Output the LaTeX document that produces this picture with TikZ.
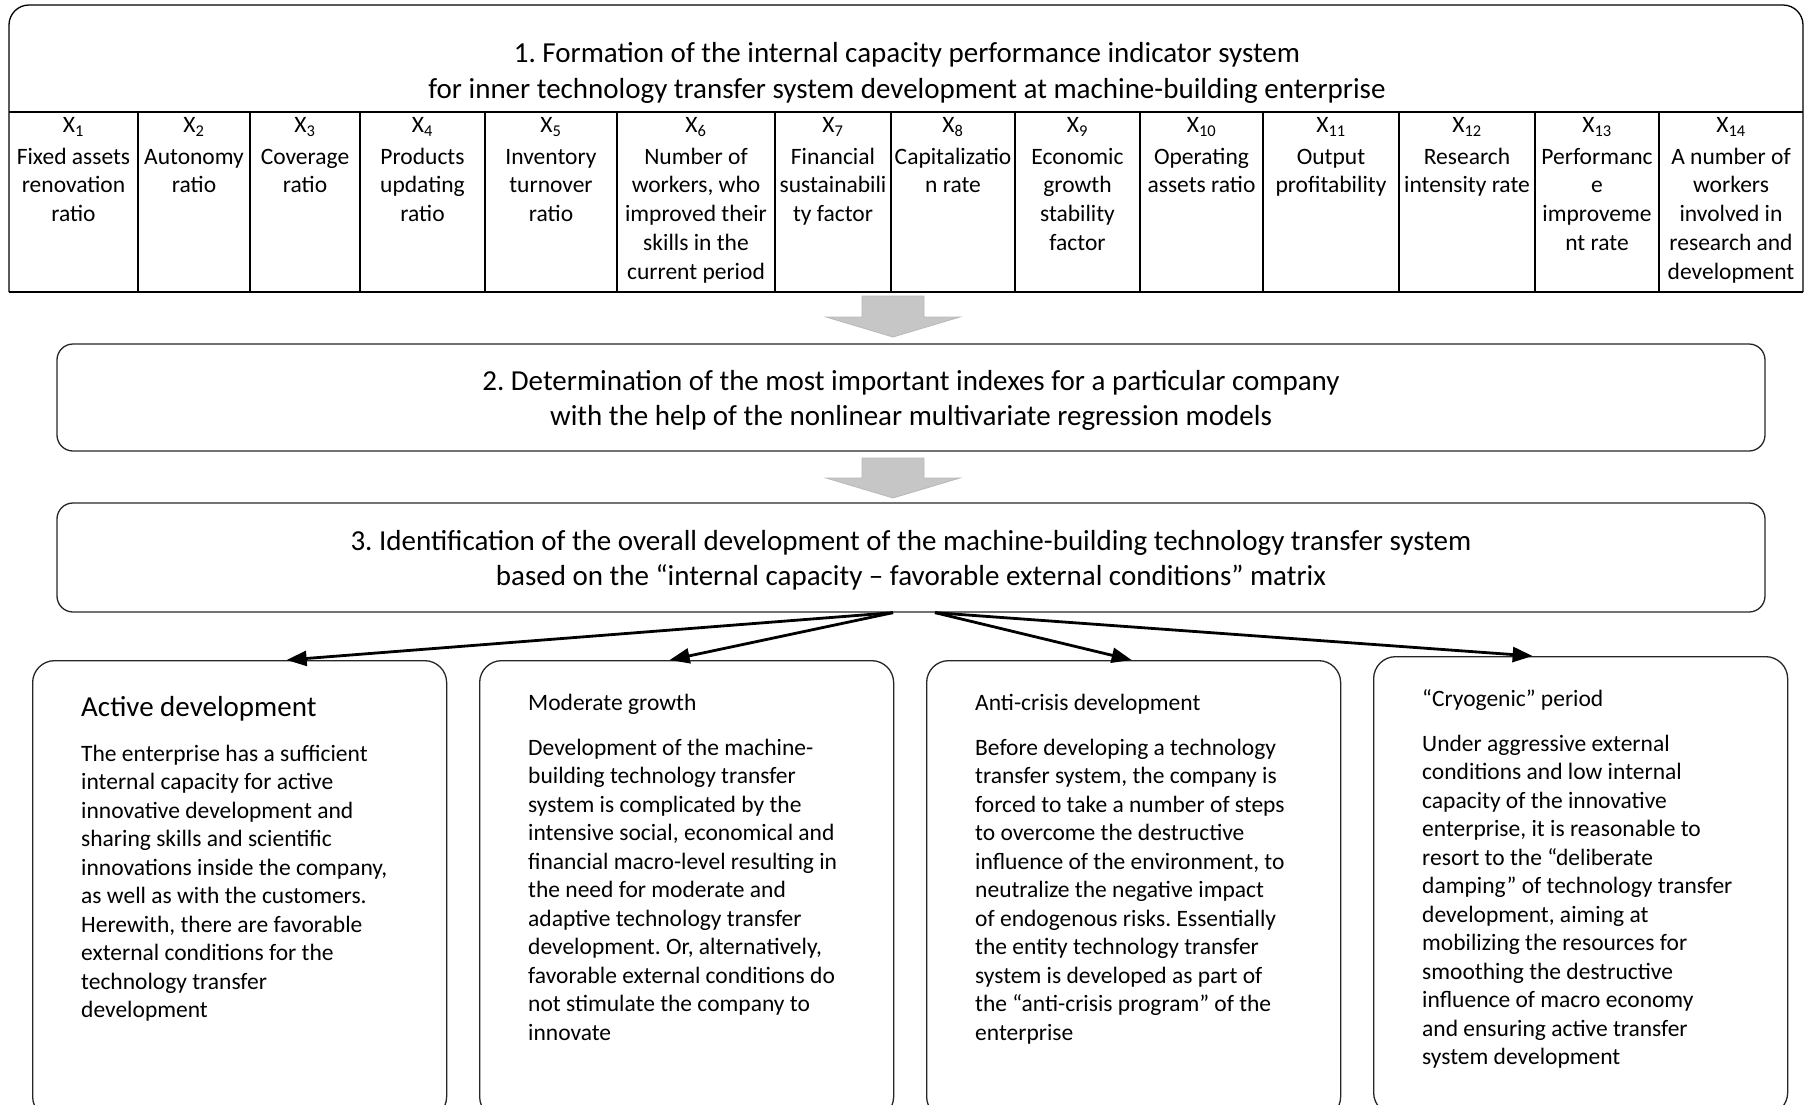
\documentclass[tikz,border=0pt]{standalone}
\usepackage{fontspec}
\setmainfont{Carlito}
\usetikzlibrary{arrows.meta}
\frenchspacing

\newcommand{\bigfont}{\fontsize{29}{35.5}\selectfont}
\newcommand{\cellfont}{\fontsize{23.5}{28.8}\selectfont}
\newcommand{\smallfont}{\fontsize{23.5}{28.5}\selectfont}

\tikzset{
    stepbox/.style={draw=black!85, line width=1.3pt, rounded corners=16pt, align=center, font=\bigfont},
    casebox/.style={draw=black!85, line width=1.3pt, rounded corners=22pt, anchor=north west,
        minimum width=414pt, minimum height=458pt},
    cell/.style={anchor=north, align=center, inner sep=0pt, font=\cellfont},
    casehead/.style={anchor=base west, inner sep=0pt, font=\smallfont},
    casetext/.style={anchor=north west, align=left, inner sep=0pt, font=\smallfont},
    blockarr/.style={fill=gray!45, draw=gray!55, line width=0.8pt},
    flowarr/.style={line width=2.8pt, -{Triangle[length=20pt,width=15pt]}}
}

\begin{document}
\begin{tikzpicture}[x=1pt, y=-1pt]
    \useasboundingbox (0,0) rectangle (1805,1104);
    \clip (0,0) rectangle (1805,1104);

    % step 1: indicator table
    \draw[line width=1.3pt, rounded corners=20pt] (9,292) -- (9,5) -- (1803,5) -- (1803,292);
    \draw[line width=1.3pt] (9,112) -- (1803,112) (9,292) -- (1803,292);
    \foreach \x in {138,250,360,485,617,775,891,1015,1140,1263,1399,1535,1659}
        \draw[line width=1.1pt] (\x,112) -- (\x,292);

    \node[anchor=north, align=center, inner sep=0pt, font=\bigfont] (step1) at (907,37.6)
        {\strut 1. Formation of the internal capacity performance indicator system\\
         for inner technology transfer system development at machine-building enterprise};

    \node[cell] (x1) at (73.5,112) {\strut X\textsubscript{1}\\[3pt]Fixed assets\\renovation\\ratio};
    \node[cell] (x2) at (194,112) {\strut X\textsubscript{2}\\[3pt]Autonomy\\ratio};
    \node[cell] (x3) at (305,112) {\strut X\textsubscript{3}\\[3pt]Coverage\\ratio};
    \node[cell] (x4) at (422.5,112) {\strut X\textsubscript{4}\\[3pt]Products\\updating\\ratio};
    \node[cell] (x5) at (551,112) {\strut X\textsubscript{5}\\[3pt]Inventory\\turnover\\ratio};
    \node[cell] (x6) at (696,112) {\strut X\textsubscript{6}\\[3pt]Number of\\workers, who\\improved their\\skills in the\\current period};
    \node[cell] (x7) at (833,112) {\strut X\textsubscript{7}\\[3pt]Financial\\sustainabili\\ty factor};
    \node[cell] (x8) at (953,112) {\strut X\textsubscript{8}\\[3pt]Capitalizatio\\n rate};
    \node[cell] (x9) at (1077.5,112) {\strut X\textsubscript{9}\\[3pt]Economic\\growth\\stability\\factor};
    \node[cell] (x10) at (1201.5,112) {\strut X\textsubscript{10}\\[3pt]Operating\\assets ratio};
    \node[cell] (x11) at (1331,112) {\strut X\textsubscript{11}\\[3pt]Output\\profitability};
    \node[cell] (x12) at (1467,112) {\strut X\textsubscript{12}\\[3pt]Research\\intensity rate};
    \node[cell] (x13) at (1597,112) {\strut X\textsubscript{13}\\[3pt]Performanc\\e\\improveme\\nt rate};
    \node[cell] (x14) at (1731,112) {\strut X\textsubscript{14}\\[3pt]A number of\\workers\\involved in\\research and\\development};

    % gray block arrows
    \coordinate (ar1) at (893,296);
    \coordinate (ar2) at (893,458);
    \draw[blockarr] (ar1) ++(-31,0) -- ++(62,0) -- ++(0,21) -- ++(36,0) -- ++(-67,20) -- ++(-67,-20) -- ++(36,0) -- cycle;
    \draw[blockarr] (ar2) ++(-31,0) -- ++(62,0) -- ++(0,20) -- ++(36,0) -- ++(-67,20) -- ++(-67,-20) -- ++(36,0) -- cycle;

    % steps 2 and 3
    \node[stepbox, minimum width=1708pt, minimum height=107pt] (step2) at (911,397.5)
        {\rule{0pt}{26pt}2. Determination of the most important indexes for a particular company\\
         with the help of the nonlinear multivariate regression models};
    \node[stepbox, minimum width=1708pt, minimum height=109pt] (step3) at (911,557.5)
        {\rule{0pt}{26pt}3. Identification of the overall development of the machine-building technology transfer system\\
         based on the “internal capacity – favorable external conditions” matrix};

    % four development types
    \node[casebox] (act) at (32,660) {};
    \node[casebox] (mod) at (479,660) {};
    \node[casebox] (anti) at (926,660) {};
    \node[casebox] (cryo) at (1373,656) {};

    \node[casehead, font=\bigfont] (actH) at (81,716) {Active development};
    \node[casetext] (actT) at (81,741) {\strut The enterprise has a sufficient\\
        internal capacity for active\\
        innovative development and\\
        sharing skills and scientific\\
        innovations inside the company,\\
        as well as with the customers.\\
        Herewith, there are favorable\\
        external conditions for the\\
        technology transfer\\
        development};

    \node[casehead] (modH) at (528,710) {Moderate growth};
    \node[casetext] (modT) at (528,735) {\strut Development of the machine-\\
        building technology transfer\\
        system is complicated by the\\
        intensive social, economical and\\
        financial macro-level resulting in\\
        the need for moderate and\\
        adaptive technology transfer\\
        development. Or, alternatively,\\
        favorable external conditions do\\
        not stimulate the company to\\
        innovate};

    \node[casehead] (antiH) at (975,710) {Anti-crisis development};
    \node[casetext] (antiT) at (975,735) {\strut Before developing a technology\\
        transfer system, the company is\\
        forced to take a number of steps\\
        to overcome the destructive\\
        influence of the environment, to\\
        neutralize the negative impact\\
        of endogenous risks. Essentially\\
        the entity technology transfer\\
        system is developed as part of\\
        the “anti-crisis program” of the\\
        enterprise};

    \node[casehead] (cryoH) at (1422,706) {“Cryogenic” period};
    \node[casetext] (cryoT) at (1422,731) {\strut Under aggressive external\\
        conditions and low internal\\
        capacity of the innovative\\
        enterprise, it is reasonable to\\
        resort to the “deliberate\\
        damping” of technology transfer\\
        development, aiming at\\
        mobilizing the resources for\\
        smoothing the destructive\\
        influence of macro economy\\
        and ensuring active transfer\\
        system development};

    % arrows from step 3
    \draw[flowarr] ([xshift=-18pt]step3.south) -- ([xshift=47pt]act.north);
    \draw[flowarr] ([xshift=-18pt]step3.south) -- ([xshift=-17pt]mod.north);
    \draw[flowarr] ([xshift=24pt]step3.south) -- ([xshift=-2pt]anti.north);
    \draw[flowarr] ([xshift=24pt]step3.south) -- ([xshift=-48pt]cryo.north);
\end{tikzpicture}
\end{document}
